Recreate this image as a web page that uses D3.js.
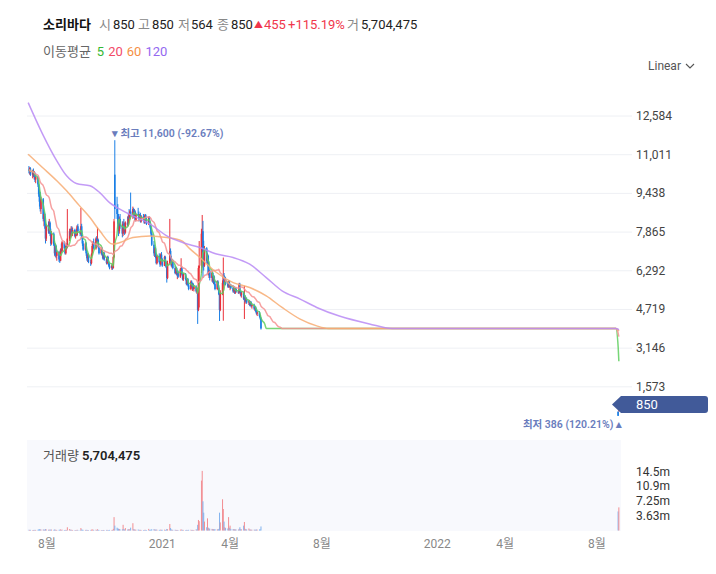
<!DOCTYPE html>
<html>
<head>
<meta charset="utf-8">
<script src="https://cdn.jsdelivr.net/npm/d3@7"></script>
<style>
  body { margin: 0; background: #fff; }
  svg text { font-family: Roboto, "Noto Sans CJK KR", sans-serif; }
</style>
</head>
<body>
<div id="chart"></div>
<script>
// ---- data ----
const stockName = "소리바다";
const tradeStart = "2020-07-08";   // first visible trading day, weekdays after that
// [open, high, low, close, volume(천주)]
const candles = [
  [10400,10550,10250,10350,180],[10350,10500,10200,10450,150],[10450,10500,10150,10200,160],[10200,10400,10050,10300,120],
  [10300,10450,10100,10150,140],[10150,10350,10000,10250,110],[10250,10300,9900,10000,170],[10000,10200,9850,10100,130],
  [10100,10150,9700,9800,190],[9800,9950,9300,9400,260],[9400,9600,8900,9100,300],[9100,9500,8700,8800,280],
  [8800,9300,8600,9200,240],[9200,9250,8300,8400,250],[8400,8700,8100,8600,200],[8600,8650,8000,8150,210],
  [8150,8500,7400,7600,330],[7600,8200,7500,8100,260],[8100,8300,7800,7900,180],[7900,8400,7800,8250,220],
  [8250,8300,7700,7800,170],[7800,8000,7300,7400,240],[7400,7900,7350,7800,210],[7800,7850,7300,7350,160],
  [7350,7500,6900,7000,230],[7000,7400,6850,7300,200],[7300,7350,6800,6900,150],[6900,7100,6700,7050,140],
  [7050,7100,6650,6750,170],[6750,6900,6610,6700,190],[6700,7200,6680,7150,260],[7150,7400,7000,7100,150],
  [7100,7500,7050,7450,210],[7450,7500,7100,7200,130],[7200,7300,6950,7000,120],[7000,7350,6950,7300,160],
  [7300,7400,7150,7250,110],[7250,8800,7200,7600,800],[7600,8000,7500,7900,350],[7900,8000,7600,7700,180],
  [7700,8100,7650,8000,200],[8000,8100,7750,7800,140],[7800,8050,7700,7950,130],[7950,8000,7650,7700,120],
  [7700,7900,7600,7850,110],[7850,8000,7700,7750,100],[7750,8150,7700,8100,180],[8100,8200,7850,7900,130],
  [7900,8000,7700,7800,110],[7800,8850,7750,8100,600],[8100,8200,7600,7650,240],[7650,7750,7300,7400,170],
  [7400,7500,7100,7150,150],[7150,7450,7100,7400,140],[7400,7450,6900,7000,160],[7000,7100,6700,6800,150],
  [6800,7000,6650,6950,130],[6950,7000,6600,6650,120],[6650,6750,6490,6600,140],[6600,7000,6550,6950,190],
  [6950,7400,6900,7300,260],[7300,7500,7200,7450,200],[7450,7600,7150,7200,150],[7200,7650,7150,7600,210],
  [7600,7700,7400,7500,130],[7500,8050,7450,7550,300],[7550,7600,7200,7250,160],[7250,7300,6950,7000,140],
  [7000,7250,6950,7200,120],[7200,7250,6900,6950,110],[6950,7000,6750,6800,120],[6800,7050,6750,7000,130],
  [7000,7050,6700,6750,110],[6750,6850,6550,6600,140],[6600,6900,6550,6850,150],[6850,6900,6600,6650,100],
  [6650,6700,6450,6500,130],[6500,6600,6350,6400,150],[6400,6550,6330,6500,140],[6500,6550,6330,6400,120],
  [6400,6900,6380,6850,400],[6850,8400,6800,8300,3300],[10200,11600,8400,8800,1200],[8800,9300,8400,8600,700],
  [8600,9000,8000,8200,500],[8200,8600,7700,7900,420],[7900,8500,7800,8400,380],[8400,8600,8000,8100,260],
  [8100,8300,7650,7800,300],[7800,8300,7700,8200,1400],[8200,8400,7900,8000,350],[8000,8250,7750,7850,240],
  [7850,8300,7800,8250,600],[8250,8500,8100,8150,230],[8150,8600,8100,8500,300],[8500,8800,8300,8400,280],
  [8400,8750,8350,8700,320],[8700,9470,8500,8600,700],[8600,8900,8400,8800,1800],[8800,8850,8450,8500,300],
  [8500,8800,8450,8700,260],[8700,8750,8300,8350,210],[8350,8650,8300,8600,190],[8600,8850,8500,8550,230],
  [8550,8700,8300,8400,170],[8400,8600,8350,8550,150],[8550,8650,8250,8300,160],[8300,8550,8250,8500,140],
  [8500,8600,8350,8400,120],[8400,8500,8200,8250,130],[8250,8600,8200,8550,180],[8550,8600,8300,8350,140],
  [8350,8450,8150,8200,120],[8200,8500,8150,8450,400],[8450,8500,8200,8250,150],[8250,8300,8000,8050,160],
  [8050,8150,7700,7800,220],[7800,7850,7300,7350,300],[7350,7500,6900,7000,330],[7000,7250,6850,7200,240],
  [7200,7250,6800,6850,200],[6850,7000,6550,6600,230],[6600,6950,6550,6900,190],[6900,7000,6600,6650,150],
  [6650,6800,6450,6550,160],[6550,7000,6500,6950,210],[6950,7050,6700,6750,150],[6750,6800,6450,6500,170],
  [6500,6900,6480,6850,200],[6850,6900,6600,6650,140],[6650,6700,6400,6450,150],[6450,6600,5810,6000,380],
  [6000,6700,5950,6600,300],[6600,8400,6550,7100,1600],[7100,7200,6700,6800,600],[6800,6900,6450,6500,250],
  [6500,6750,6400,6700,180],[6700,6750,6350,6400,160],[6400,6500,6150,6200,170],[6200,6450,6150,6400,150],
  [6400,6450,6100,6150,130],[6150,6300,5950,6250,140],[6250,6300,6000,6050,120],[6050,6400,6000,6350,160],
  [6350,6800,6300,6400,280],[6400,6450,6100,6150,150],[6150,6200,5900,5950,160],[5950,6200,5880,6150,140],
  [6150,6200,5900,5950,120],[5950,6050,5700,5750,150],[5750,6000,5700,5950,130],[5950,6000,5650,5700,140],
  [5700,5800,5500,5550,160],[5550,5900,5500,5850,180],[5850,5900,5600,5650,130],[5650,5800,5470,5750,150],
  [5750,5800,5500,5550,120],[5550,5700,5450,5650,140],[5650,5700,5400,5450,300],[5450,5600,5350,5550,220],
  [5550,5600,4130,4700,1400],[4700,6500,4650,6400,2600],[6400,7500,4800,6500,2300],[6500,8000,6200,7800,12300],
  [7000,8560,6420,7900,14700],[7900,8320,6000,6600,7200],[6600,7510,6300,6500,4400],[6500,7300,6450,7200,2200],
  [7200,7250,6600,6700,800],[6700,7000,6500,6900,3000],[6900,6950,6100,6150,700],[6150,6400,6000,6300,500],
  [6300,6350,5900,6000,450],[6000,6250,5850,6200,400],[6200,6250,5800,5850,350],[5850,6100,5750,6050,300],
  [6050,6100,5700,5750,280],[5750,5900,5500,5550,330],[5550,5900,5500,5850,300],[5850,5900,5550,5600,250],
  [5600,5700,5300,5350,400],[5350,5400,4250,4700,4400],[4700,5500,4650,5400,2000],[5400,5900,5300,5800,7700],
  [5800,6830,4260,6100,5300],[6100,6200,5700,5750,2200],[5750,6000,5700,5950,800],[5950,6050,5700,5750,600],
  [5750,5850,5600,5650,500],[5650,5900,5600,5850,3300],[5850,5900,5600,5650,700],[5650,5750,5500,5700,1200],
  [5700,5750,5550,5600,400],[5600,5700,5400,5450,350],[5450,5650,5400,5600,300],[5600,5650,5350,5400,280],
  [5400,5600,5350,5550,260],[5550,5600,5400,5450,240],[5450,5500,5350,5400,220],[5400,5800,5350,5750,400],
  [5750,5800,5400,5450,800],[5450,5500,5250,5300,300],[5300,5450,5200,5400,280],[5400,5450,5100,5150,1200],
  [5150,5680,4330,5250,2100],[5250,5300,5000,5050,400],[5050,5200,4950,5150,300],[5150,5200,4950,5000,250],
  [5000,5100,4900,5050,500],[5050,5100,4850,4900,240],[4900,5050,4850,5000,220],[5000,5050,4800,4850,200],
  [4850,4950,4750,4900,190],[4900,4950,4700,4750,210],[4750,4850,4650,4800,180],[4800,4850,4600,4650,200],
  [4650,4700,4500,4550,230],[4550,4650,4450,4600,210],[4600,4650,4400,4450,250],[4450,4500,4300,4350,300],
  [4350,4400,3900,3945,1000]
];
// trading halt: flat price, no volume
const haltFrom = "2021-05-14";
const haltTo = "2022-08-26";
const haltPrice = 3945;
// after resumption: [date, open, high, low, close, volume(천주)]
const lastDays = [
  ["2022-08-29", 560, 570, 386, 395, 4700],
  ["2022-08-30", 850, 850, 564, 850, 5704.475]
];
// long moving averages (window starts before the visible data)
const ma60Points = [
  ["2020-07-07",11030],["2020-07-26",10490],["2020-08-14",9950],["2020-08-27",9540],["2020-09-13",8940],
  ["2020-09-27",8455],["2020-10-10",7915],["2020-10-27",7375],["2020-11-06",7440],["2020-11-23",7640],
  ["2020-12-16",7710],["2021-01-07",7640],["2021-01-27",7500],["2021-02-06",7200],["2021-02-20",6830],
  ["2021-03-14",6220],["2021-04-05",5810],["2021-04-27",5610],["2021-05-19",5270],["2021-06-09",4800],
  ["2021-07-03",4325],["2021-07-25",4050],["2021-08-10",3945],["2022-08-26",3945],["2022-08-29",3886],
  ["2022-08-30",3834]
];
const ma120Points = [
  ["2020-07-07",13130],["2020-07-26",11860],["2020-08-14",10760],["2020-08-27",10150],["2020-09-09",9840],
  ["2020-09-27",9745],["2020-10-10",9470],["2020-10-23",9065],["2020-11-02",8860],["2020-11-23",8525],
  ["2020-12-16",8190],["2021-01-07",7710],["2021-01-28",7440],["2021-02-20",7235],["2021-03-14",6970],
  ["2021-04-05",6830],["2021-04-27",6560],["2021-05-19",6015],["2021-06-09",5475],["2021-07-03",5140],
  ["2021-07-25",4800],["2021-08-24",4450],["2021-10-03",4130],["2021-11-02",3945],["2022-08-26",3945],
  ["2022-08-29",3915],["2022-08-30",3890]
];
const priceTicks = [1573, 3146, 4719, 6292, 7865, 9438, 11011, 12584];
const volTicks = [3625, 7250, 10875, 14500];
const volTickLabels = ["3.63m", "7.25m", "10.9m", "14.5m"];
const dateTicks = ["2020-08-01","2021-01-01","2021-04-01","2021-08-01","2022-01-01","2022-04-01","2022-08-01"];
const dateTickLabels = ["8월","2021","4월","8월","2022","4월","8월"];
const maWindows = [5, 20, 60, 120];
const maColors = ["#5fcf5f", "#f59090", "#f7ab72", "#b98af5"];
const maLegendColors = ["#33b833", "#f24a68", "#f58f45", "#9468f0"];

// ---- build rows ----
const parse = d3.timeParse("%Y-%m-%d");
function nextWeekday(d) {
  const n = new Date(d); n.setDate(n.getDate() + 1);
  while (n.getDay() === 0 || n.getDay() === 6) n.setDate(n.getDate() + 1);
  return n;
}
const rows = [];
let day = parse(tradeStart);
candles.forEach(c => {
  rows.push({ date: day, o: c[0], h: c[1], l: c[2], c: c[3], v: c[4] });
  day = nextWeekday(day);
});
for (let d = parse(haltFrom); d <= parse(haltTo); d = nextWeekday(d)) {
  if (d.getDay() === 0 || d.getDay() === 6) continue;
  rows.push({ date: d, o: haltPrice, h: haltPrice, l: haltPrice, c: haltPrice, v: 0 });
}
lastDays.forEach(c => rows.push({ date: parse(c[0]), o: c[1], h: c[2], l: c[3], c: c[4], v: c[5] }));
rows.forEach((r, i) => {
  const prev = i > 0 ? rows[i - 1].c : r.o;
  r.up = r.c > r.o ? 1 : r.c < r.o ? -1 : (r.c > prev ? 1 : r.c < prev ? -1 : 0);
});

function movingAvg(n) {
  return rows.map((r, i) => ({
    date: r.date,
    value: d3.mean(rows.slice(Math.max(0, i - n + 1), i + 1), d => d.c)
  }));
}
const maSeries = [
  movingAvg(5),
  movingAvg(20),
  ma60Points.map(p => ({ date: parse(p[0]), value: p[1] })),
  ma120Points.map(p => ({ date: parse(p[0]), value: p[1] }))
];

// ---- svg ----
const W = 716, H = 574;
const svg = d3.select("#chart").append("svg").attr("width", W).attr("height", H);

const x = d3.scaleTime()
  .domain([parse("2020-08-01"), parse("2022-08-01")])
  .range([47, 597]);
const y = d3.scaleLinear().domain([0, 12584]).range([425.5, 116]);
const yv = d3.scaleLinear().domain([0, 14500]).range([530.5, 471.7]);

const RED = "#ea3039", BLUE = "#1a7fe6", FLAT = "#222";
const VRED = "#f28e92", VBLUE = "#82b3ef";

// grid + price axis
const grid = svg.append("g");
grid.selectAll("line").data(priceTicks).enter().append("line")
  .attr("x1", 27).attr("x2", 632)
  .attr("y1", d => y(d)).attr("y2", d => y(d))
  .attr("stroke", "#eef0f4").attr("stroke-width", 1);
svg.append("g").selectAll("text").data(priceTicks).enter().append("text")
  .attr("x", 636).attr("y", d => y(d) + 4)
  .style("font-size", "12px").style("fill", "#444")
  .text(d => d3.format(",")(d));

// volume panel
svg.append("rect").attr("x", 27).attr("y", 440).attr("width", 594).attr("height", 91)
  .attr("fill", "#f8f9fd");
svg.append("g").selectAll("rect").data(rows.filter(r => r.v > 0)).enter().append("rect")
  .attr("x", d => x(d.date) - 0.5)
  .attr("width", 1)
  .attr("y", d => yv(d.v))
  .attr("height", d => yv(0) - yv(d.v))
  .attr("fill", d => d.up >= 0 ? VRED : VBLUE);
svg.append("g").selectAll("text").data(volTicks).enter().append("text")
  .attr("x", 636).attr("y", d => yv(d) + 4)
  .style("font-size", "12px").style("fill", "#333")
  .text((d, i) => volTickLabels[i]);

const last = rows[rows.length - 1];
const volLabel = svg.append("text").attr("x", 43).attr("y", 460).style("font-size", "13px");
volLabel.append("tspan").style("fill", "#555").text("거래량 ");
volLabel.append("tspan").style("fill", "#222").style("font-weight", "600")
  .text(d3.format(",")(Math.round(last.v * 1000)));

// x axis labels
svg.append("g").selectAll("text").data(dateTicks).enter().append("text")
  .attr("x", d => x(parse(d))).attr("y", 548)
  .attr("text-anchor", "middle")
  .style("font-size", "12px").style("fill", "#888")
  .text((d, i) => dateTickLabels[i]);

// candles
const cg = svg.append("g");
const colorOf = d => d.up > 0 ? RED : d.up < 0 ? BLUE : FLAT;
cg.selectAll("line").data(rows.filter(r => r.h > r.l)).enter().append("line")
  .attr("x1", d => x(d.date)).attr("x2", d => x(d.date))
  .attr("y1", d => y(d.h)).attr("y2", d => y(d.l))
  .attr("stroke", colorOf).attr("stroke-width", 1);
cg.selectAll("rect").data(rows).enter().append("rect")
  .attr("x", d => x(d.date) - 0.8)
  .attr("width", 1.6)
  .attr("y", d => y(Math.max(d.o, d.c)))
  .attr("height", d => Math.abs(y(d.o) - y(d.c)))
  .attr("fill", colorOf);

// moving averages
const line = d3.line().x(d => x(d.date)).y(d => y(d.value)).curve(d3.curveMonotoneX);
maSeries.forEach((s, i) => {
  svg.append("path").datum(s)
    .attr("d", line)
    .attr("fill", "none")
    .attr("stroke", maColors[i])
    .attr("stroke-width", 1.5)
    .attr("stroke-opacity", 0.85);
});

// high / low markers
const hiRow = rows.reduce((a, b) => b.h > a.h ? b : a);
const loRow = rows.reduce((a, b) => b.l < a.l ? b : a);
const hiPct = (last.c - hiRow.h) / hiRow.h * 100;
const loPct = (last.c - loRow.l) / loRow.l * 100;
svg.append("text")
  .attr("x", x(hiRow.date) - 3).attr("y", y(hiRow.h) - 3)
  .style("font-size", "10.5px").style("font-weight", "600").style("fill", "#6a7dbd")
  .text(`▾ 최고 ${d3.format(",")(hiRow.h)} (${hiPct.toFixed(2)}%)`);
svg.append("text")
  .attr("x", x(loRow.date) + 4).attr("y", y(loRow.l) + 12)
  .attr("text-anchor", "end")
  .style("font-size", "10.5px").style("font-weight", "600").style("fill", "#6a7dbd")
  .text(`최저 ${d3.format(",")(loRow.l)} (${loPct.toFixed(2)}%) ▴`);

// current price tag
const ty = y(last.c);
svg.append("path")
  .attr("d", `M612,${ty} L621,${ty - 8.5} L705,${ty - 8.5} Q708,${ty - 8.5} 708,${ty - 5.5} L708,${ty + 5.5} Q708,${ty + 8.5} 705,${ty + 8.5} L621,${ty + 8.5} Z`)
  .attr("fill", "#415a99");
svg.append("text").attr("x", 636).attr("y", ty + 4.5)
  .style("font-size", "13px").style("fill", "#fff")
  .text(d3.format(",")(last.c));

// Linear toggle
svg.append("text").attr("x", 648).attr("y", 70)
  .style("font-size", "12px").style("fill", "#555").text("Linear");
svg.append("path").attr("d", "M686,64 L690,68 L694,64")
  .attr("fill", "none").attr("stroke", "#555").attr("stroke-width", 1.1);

// header
const prevClose = rows[rows.length - 2].c;
const chg = last.c - prevClose;
const hdr = [
  { x: 43, t: stockName, c: "#111", w: 700 },
  { x: 99, t: "시", c: "#888" }, { x: 113, t: d3.format(",")(last.o), c: "#222" },
  { x: 138, t: "고", c: "#888" }, { x: 152, t: d3.format(",")(last.h), c: "#222" },
  { x: 178, t: "저", c: "#888" }, { x: 191, t: d3.format(",")(last.l), c: "#222" },
  { x: 217, t: "종", c: "#888" }, { x: 231, t: d3.format(",")(last.c), c: "#222" },
  { x: 254, t: "▲", c: "#f0364c", s: "9px" },
  { x: 264, t: d3.format(",")(chg), c: "#f0364c" },
  { x: 288, t: "+" + (chg / prevClose * 100).toFixed(2) + "%", c: "#f0364c" },
  { x: 347, t: "거", c: "#888" }, { x: 361, t: d3.format(",")(Math.round(last.v * 1000)), c: "#222" }
];
svg.append("g").selectAll("text").data(hdr).enter().append("text")
  .attr("x", d => d.x).attr("y", d => d.s ? 28 : 29)
  .style("font-size", d => d.s || "13px").style("fill", d => d.c)
  .style("font-weight", d => d.w || 400)
  .text(d => d.t);

// MA legend
const leg = svg.append("text").attr("x", 43).attr("y", 56).style("font-size", "13px");
leg.append("tspan").style("fill", "#666").text("이동평균");
maWindows.forEach((n, i) => {
  leg.append("tspan").attr("dx", i === 0 ? 6 : 4).style("fill", maLegendColors[i]).text(n);
});
</script>
</body>
</html>
